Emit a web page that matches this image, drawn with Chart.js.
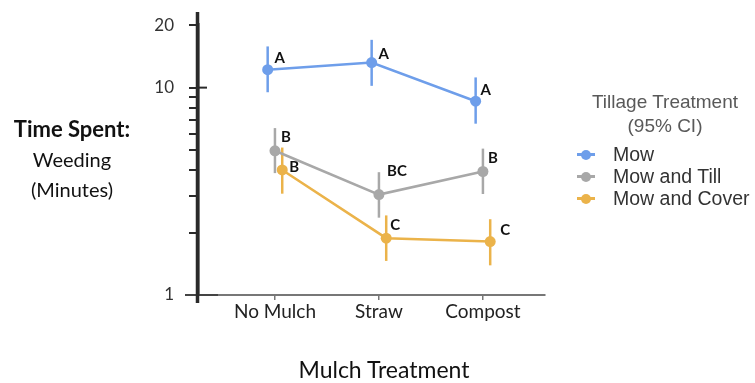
<!DOCTYPE html>
<html>
<head>
<meta charset="utf-8">
<script src="https://cdn.jsdelivr.net/npm/chart.js@4"></script>
<style>
  body { margin: 0; background: #fff; }
  #wrap { position: relative; width: 755px; height: 383px; overflow: hidden; }
  #myChart { position: absolute; left: 0; top: 0; }
  .ytitle { position: absolute; left: 0; width: 144px; text-align: center; font-family: Lato, sans-serif; font-size: 20px; color: #111; line-height: 30px; top: 114px; }
  .ytitle b { font-size: 22px; }
  .xtitle { position: absolute; left: 234px; width: 300px; text-align: center; font-family: Lato, sans-serif; font-size: 23px; color: #111; top: 355px; }
  .legend { position: absolute; left: 572px; top: 90px; font-family: "Liberation Sans", Arial, sans-serif; color: #333; }
  .legend .ttl { width: 186px; text-align: center; font-size: 19px; color: #595959; line-height: 24px; }
  .legend .item { position: relative; height: 22px; line-height: 22px; font-size: 19.5px; padding-left: 41px; white-space: nowrap; }
  .legend .mk { position: absolute; left: 5px; top: 10px; width: 18px; height: 3px; }
  .legend .mk::after { content: ''; position: absolute; left: 4px; top: -3.5px; width: 10px; height: 10px; border-radius: 50%; background: inherit; }
</style>
</head>
<body>
<div id="wrap">
  <canvas id="myChart" width="755" height="383"></canvas>
  <div class="ytitle"><b>Time Spent:</b><br>Weeding<br>(Minutes)</div>
  <div class="xtitle">Mulch Treatment</div>
  <div class="legend" id="legend"></div>
</div>
<script>
const categories = ['No Mulch', 'Straw', 'Compost'];
const seriesNames = ['Mow', 'Mow and Till', 'Mow and Cover'];
const legendTitle = ['Tillage Treatment', '(95% CI)'];

const mowMean = [12.2, 13.2, 8.6];
const mowLow = [9.5, 10.2, 6.7];
const mowHigh = [15.8, 17.0, 11.2];
const mowLetters = ['A', 'A', 'A'];

const tillMean = [4.96, 3.05, 3.94];
const tillLow = [3.87, 2.36, 3.07];
const tillHigh = [6.38, 3.91, 5.08];
const tillLetters = ['B', 'BC', 'B'];

const coverMean = [4.01, 1.88, 1.81];
const coverLow = [3.08, 1.46, 1.39];
const coverHigh = [5.14, 2.42, 2.32];
const coverLetters = ['B', 'C', 'C'];

const yTicks = [1, 2, 3, 4, 5, 6, 7, 8, 9, 10, 20];
const yLabelled = [1, 10, 20];

// styling only
const colors = ['rgb(110,158,234)', 'rgb(168,168,168)', 'rgb(235,179,74)'];
const dodge = [-0.07, 0, 0.07];
const letterShift = [
    [[12, -12], [12, -8], [10, -11]],
    [[11, -14], [18, -23], [10, -13]],
    [[12, -3], [9, -13], [15, -11]]
];

const means = [mowMean, tillMean, coverMean];
const lows = [mowLow, tillLow, coverLow];
const highs = [mowHigh, tillHigh, coverHigh];
const letters = [mowLetters, tillLetters, coverLetters];

// legend
const legendEl = document.getElementById('legend');
let html = '<div class="ttl">' + legendTitle.join('<br>') + '</div><div style="height:5px"></div>';
for (let i = 0; i < seriesNames.length; i++) {
    html += '<div class="item"><span class="mk" style="background:' + colors[i] + '"></span>' + seriesNames[i] + '</div>';
}
legendEl.innerHTML = html;

const datasets = [];
for (let s = 0; s < seriesNames.length; s++) {
    datasets.push({
        label: seriesNames[s],
        data: means[s].map((v, i) => ({ x: i + dodge[s], y: v })),
        borderColor: colors[s],
        backgroundColor: colors[s],
        borderWidth: 2.5,
        pointRadius: 5.5,
        pointHoverRadius: 5.5,
        pointBorderWidth: 0,
        order: 2 - s,
        errLow: lows[s],
        errHigh: highs[s],
        letters: letters[s],
        shift: letterShift[s]
    });
}

const extrasPlugin = {
    id: 'extras',
    beforeDatasetsDraw(chart) {
        const ctx = chart.ctx;
        const xs = chart.scales.x, ys = chart.scales.y;
        ctx.save();
        chart.data.datasets.forEach((ds) => {
            ctx.strokeStyle = ds.borderColor;
            ctx.lineWidth = 2.5;
            ds.data.forEach((p, i) => {
                const x = xs.getPixelForValue(p.x);
                ctx.beginPath();
                ctx.moveTo(x, ys.getPixelForValue(ds.errLow[i]));
                ctx.lineTo(x, ys.getPixelForValue(ds.errHigh[i]));
                ctx.stroke();
            });
        });
        ctx.restore();
    },
    afterDraw(chart) {
        const ctx = chart.ctx;
        const xs = chart.scales.x, ys = chart.scales.y;
        const area = chart.chartArea;
        ctx.save();
        // x axis line extends left of y axis
        ctx.strokeStyle = '#444';
        ctx.lineWidth = 2;
        ctx.beginPath();
        ctx.moveTo(185, area.bottom);
        ctx.lineTo(area.left + 20, area.bottom);
        ctx.stroke();
        // y axis overhang above and below
        ctx.strokeStyle = '#2a2a2a';
        ctx.lineWidth = 3.5;
        ctx.beginPath();
        ctx.moveTo(area.left - 0.5, 12);
        ctx.lineTo(area.left - 0.5, 303);
        ctx.stroke();
        // inner part of the 10 tick
        ctx.lineWidth = 2;
        ctx.beginPath();
        ctx.moveTo(area.left, ys.getPixelForValue(10));
        ctx.lineTo(area.left + 9, ys.getPixelForValue(10));
        ctx.stroke();
        // letters
        ctx.fillStyle = '#111';
        ctx.font = 'bold 15px Lato, sans-serif';
        ctx.textAlign = 'center';
        ctx.textBaseline = 'middle';
        chart.data.datasets.forEach((ds) => {
            ds.data.forEach((p, i) => {
                const x = xs.getPixelForValue(p.x) + ds.shift[i][0];
                const y = ys.getPixelForValue(p.y) + ds.shift[i][1];
                ctx.fillText(ds.letters[i], x, y);
            });
        });
        ctx.restore();
    }
};

new Chart(document.getElementById('myChart'), {
    type: 'line',
    data: { datasets: datasets },
    plugins: [extrasPlugin],
    options: {
        responsive: false,
        animation: false,
        layout: { padding: { top: 21, right: 210, left: 0, bottom: 0 } },
        plugins: { legend: { display: false }, tooltip: { enabled: false } },
        scales: {
            x: {
                type: 'linear',
                min: -0.74,
                max: 2.597,
                afterBuildTicks: (axis) => { axis.ticks = categories.map((c, i) => ({ value: i })); },
                afterFit: (axis) => { axis.height = 88; },
                ticks: {
                    callback: (v) => categories[v],
                    font: { family: 'Lato', size: 19 },
                    color: '#222',
                    padding: 0,
                    maxRotation: 0
                },
                grid: { drawOnChartArea: false, tickLength: 5, color: '#777', lineWidth: 1.5 },
                border: { color: '#777', width: 2 }
            },
            y: {
                type: 'logarithmic',
                min: 1,
                max: 20,
                afterBuildTicks: (axis) => { axis.ticks = yTicks.map(v => ({ value: v })); },
                afterFit: (axis) => { axis.width = 198; },
                ticks: {
                    callback: (v) => yLabelled.includes(v) ? String(v) : '',
                    font: { family: 'Lato', size: 17 },
                    color: '#333',
                    padding: 15,
                    autoSkip: false
                },
                grid: { drawOnChartArea: false, tickLength: 9, color: '#2a2a2a', lineWidth: 2 },
                border: { color: '#2a2a2a', width: 3.5 }
            }
        }
    }
});
</script>
</body>
</html>
